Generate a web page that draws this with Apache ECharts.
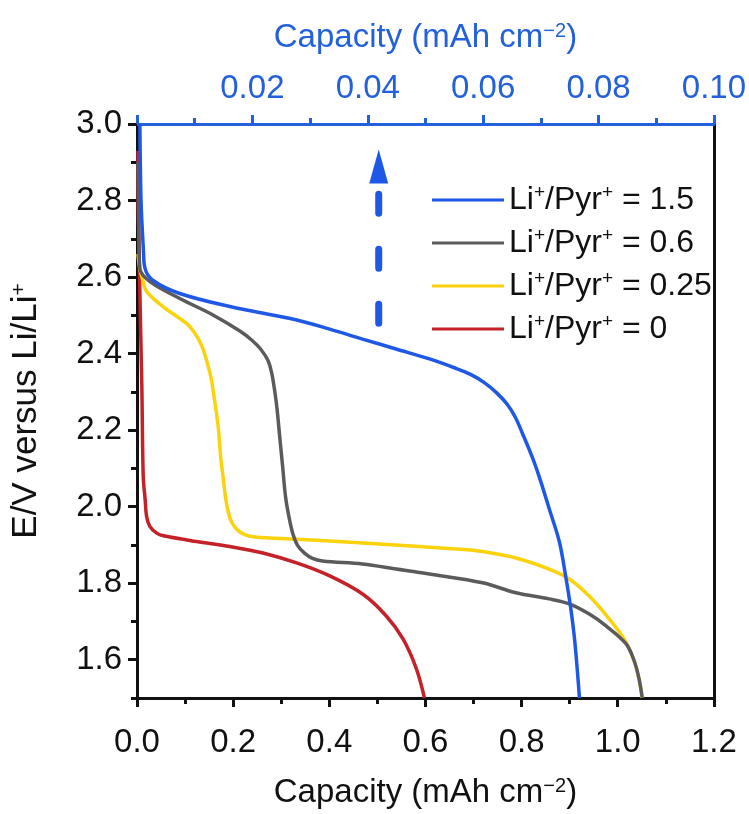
<!DOCTYPE html>
<html>
<head>
<meta charset="utf-8">
<script src="https://cdn.jsdelivr.net/npm/echarts@6/dist/echarts.min.js"></script>
<style>
  html, body { margin: 0; padding: 0; background: #fff; }
  #chart { width: 749px; height: 814px; }
</style>
</head>
<body>
<div id="chart"></div>
<script>
// Discharge curves: capacity (mAh cm^-2) vs potential (V vs Li/Li+)
// Li+/Pyr+ = 1.5 is read against the top (blue) capacity axis.
const capBlueTop = [0.0005, 0.0007, 0.0011, 0.0014, 0.0028, 0.0074, 0.0161, 0.0277, 0.0334, 0.0391, 0.0449,
  0.0507, 0.0550, 0.0579, 0.0602, 0.0623, 0.0642, 0.0656, 0.0668, 0.0685, 0.0699, 0.0714, 0.0732,
  0.0743, 0.0752, 0.0759, 0.0767];
const voltBlue = [3.00, 2.80, 2.674, 2.622, 2.591, 2.557, 2.523, 2.488, 2.464, 2.438, 2.412,
  2.386, 2.363, 2.345, 2.324, 2.298, 2.267, 2.233, 2.192, 2.130, 2.070, 1.997, 1.909,
  1.819, 1.733, 1.646, 1.50];

const capGray = [0.002, 0.004, 0.006, 0.027, 0.089, 0.158, 0.214, 0.239, 0.257, 0.272, 0.280, 0.286, 0.291,
  0.297, 0.303, 0.309, 0.316, 0.324, 0.334, 0.349, 0.365, 0.386, 0.469, 0.539, 0.608, 0.719, 0.788, 0.857,
  0.899, 0.940, 0.975, 1.017, 1.034, 1.044, 1.051];
const voltGray = [2.90, 2.70, 2.622, 2.588, 2.544, 2.501, 2.459, 2.435, 2.412, 2.383, 2.350, 2.306, 2.259,
  2.181, 2.104, 2.026, 1.974, 1.930, 1.899, 1.878, 1.865, 1.858, 1.850, 1.837, 1.824, 1.801, 1.775, 1.759,
  1.746, 1.720, 1.689, 1.642, 1.598, 1.552, 1.50];

const capYellow = [0.002, 0.006, 0.010, 0.020, 0.054, 0.103, 0.116, 0.129, 0.138, 0.146, 0.154, 0.162, 0.169,
  0.174, 0.179, 0.184, 0.189, 0.197, 0.208, 0.224, 0.245, 0.332, 0.470, 0.671, 0.719, 0.788, 0.857, 0.899,
  0.940, 0.982, 1.017, 1.037, 1.048, 1.050];
const voltYellow = [2.66, 2.62, 2.601, 2.562, 2.523, 2.479, 2.461, 2.435, 2.409, 2.376, 2.337, 2.272, 2.207,
  2.130, 2.078, 2.026, 1.990, 1.959, 1.940, 1.927, 1.921, 1.915, 1.905, 1.889, 1.883, 1.866, 1.837, 1.811,
  1.767, 1.707, 1.646, 1.585, 1.526, 1.50];

const capRed = [0.002, 0.003, 0.010, 0.013, 0.017, 0.020, 0.027, 0.041, 0.055, 0.124, 0.193, 0.262, 0.332,
  0.401, 0.470, 0.518, 0.553, 0.581, 0.598];
const voltRed = [2.93, 2.751, 2.319, 2.078, 2.018, 1.974, 1.948, 1.931, 1.924, 1.909, 1.896, 1.879, 1.853,
  1.819, 1.771, 1.715, 1.655, 1.577, 1.50];

const seriesNames = ['Li+/Pyr+ = 1.5', 'Li+/Pyr+ = 0.6', 'Li+/Pyr+ = 0.25', 'Li+/Pyr+ = 0'];
const bottomTicks = [0, 0.2, 0.4, 0.6, 0.8, 1.0, 1.2];
const topTicks = [0.02, 0.04, 0.06, 0.08, 0.10];
const yTicks = [1.6, 1.8, 2.0, 2.2, 2.4, 2.6, 2.8, 3.0];

// Dashed "increasing Li+" arrow, placed on the top capacity axis
const arrowCap = 0.0419;
const arrowShaft = [2.479, 2.825];
const arrowHead = 2.889;

const FONT = "'Liberation Sans', Arial, Helvetica, sans-serif";
const BLUE = '#1f58e6';
const BLUE_AXIS = '#2360dc';
const INK = '#111111';

const zip = (xs, ys) => xs.map((x, i) => [x, ys[i]]);
const supRich = (color, size) => ({
  s: { fontSize: size, verticalAlign: 'top', color: color, fontFamily: FONT }
});

const chart = echarts.init(document.getElementById('chart'), null, { renderer: 'canvas' });

const lineSeries = (name, data, color, xIdx) => ({
  name: name,
  type: 'line',
  xAxisIndex: xIdx,
  yAxisIndex: 0,
  data: data,
  showSymbol: false,
  smooth: 0.35,
  color: color,
  lineStyle: { color: color, width: 3.5 },
  emphasis: { disabled: true },
  z: 3
});

const option = {
  animation: false,
  backgroundColor: '#ffffff',
  grid: { left: 137, right: 34, top: 124, bottom: 111, containLabel: false },
  legend: {
    data: seriesNames,
    orient: 'vertical',
    left: 427,
    top: 178,
    itemWidth: 72,
    itemHeight: 3,
    itemGap: 9,
    icon: 'rect',
    selectedMode: false,
    formatter: n => n.replace(/\+/g, '{s|+}'),
    textStyle: {
      fontFamily: FONT, fontSize: 32, color: INK, lineHeight: 34,
      rich: supRich(INK, 19)
    }
  },
  xAxis: [
    {
      type: 'value', position: 'bottom', min: 0, max: 1.2, interval: 0.2,
      axisLine: { onZero: false, lineStyle: { color: INK, width: 3 } },
      axisTick: { length: 9, lineStyle: { color: INK, width: 3 } },
      minorTick: { show: true, splitNumber: 2, length: 6, lineStyle: { color: INK, width: 3 } },
      splitLine: { show: false },
      axisLabel: {
        margin: 28, fontFamily: FONT, fontSize: 33, color: INK,
        customValues: bottomTicks,
        formatter: v => v.toFixed(1)
      },
      name: 'Capacity (mAh cm{s|\u22122})',
      nameLocation: 'middle', nameGap: 78,
      nameTextStyle: { fontFamily: FONT, fontSize: 33, color: INK, rich: supRich(INK, 20) }
    },
    {
      type: 'value', position: 'top', min: 0, max: 0.1, interval: 0.02,
      axisLine: { onZero: false, lineStyle: { color: BLUE_AXIS, width: 3 } },
      axisTick: { length: 9, lineStyle: { color: BLUE_AXIS, width: 3 } },
      minorTick: { show: true, splitNumber: 2, length: 6, lineStyle: { color: BLUE_AXIS, width: 3 } },
      splitLine: { show: false },
      axisLabel: {
        margin: 19, fontFamily: FONT, fontSize: 33, color: BLUE_AXIS,
        customValues: topTicks,
        formatter: v => v.toFixed(2)
      },
      name: 'Capacity (mAh cm{s|\u22122})',
      nameLocation: 'middle', nameGap: 70,
      nameTextStyle: { fontFamily: FONT, fontSize: 33, color: BLUE_AXIS, rich: supRich(BLUE_AXIS, 20) }
    }
  ],
  yAxis: [
    {
      type: 'value', position: 'left', min: 1.5, max: 3.0, interval: 0.1,
      axisLine: { show: true, onZero: false, lineStyle: { color: INK, width: 3 } },
      axisTick: { show: true, length: 6, lineStyle: { color: INK, width: 3 } },
      splitLine: { show: false },
      axisLabel: {
        margin: 15, fontFamily: FONT, fontSize: 33, color: INK,
        customValues: yTicks,
        formatter: v => v.toFixed(1)
      },
      name: 'E/V versus Li/Li{s|+}',
      nameLocation: 'middle', nameGap: 93,
      nameTextStyle: { fontFamily: FONT, fontSize: 35, color: INK, rich: supRich(INK, 21) }
    },
    {
      type: 'value', position: 'right', min: 1.5, max: 3.0,
      axisLine: { show: true, onZero: false, lineStyle: { color: INK, width: 3 } },
      axisTick: { show: false }, axisLabel: { show: false }, splitLine: { show: false }
    },
    {
      type: 'value', position: 'left', min: 1.5, max: 3.0, interval: 0.1,
      axisLine: { show: false, onZero: false },
      axisTick: { show: true, length: 9, customValues: yTicks, lineStyle: { color: INK, width: 3 } },
      axisLabel: { show: false }, splitLine: { show: false }
    }
  ],
  series: [
    lineSeries(seriesNames[3], zip(capRed, voltRed), '#c42128', 0),
    lineSeries(seriesNames[2], zip(capYellow, voltYellow), '#fbd20c', 0),
    lineSeries(seriesNames[1], zip(capGray, voltGray), '#5b5b5d', 0),
    lineSeries(seriesNames[0], zip(capBlueTop, voltBlue), BLUE, 1),
    {
      name: 'arrow-shaft', type: 'line', xAxisIndex: 1, yAxisIndex: 0,
      data: arrowShaft.map(v => [arrowCap, v]),
      showSymbol: false, silent: true,
      lineStyle: { color: BLUE, width: 7, type: [19, 36], cap: 'round' },
      z: 4
    },
    {
      name: 'arrow-head', type: 'scatter', xAxisIndex: 1, yAxisIndex: 0,
      data: [[arrowCap, arrowHead]],
      symbol: 'triangle', symbolSize: [19, 34], silent: true,
      itemStyle: { color: BLUE, opacity: 1 },
      z: 4
    }
  ]
};

chart.setOption(option);
</script>
</body>
</html>
